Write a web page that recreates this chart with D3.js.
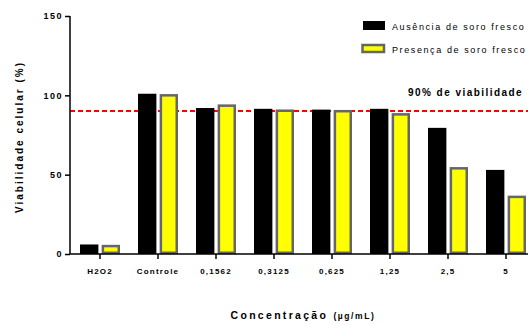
<!DOCTYPE html>
<html>
<head>
<meta charset="utf-8">
<script src="https://cdn.jsdelivr.net/npm/d3@7"></script>
<style>
  html, body { margin: 0; padding: 0; background: #fff; overflow: hidden; }
  svg { display: block; font-family: "Liberation Sans", Arial, sans-serif; }
</style>
</head>
<body>
<svg id="chart" width="528" height="325"></svg>
<script>
// Viabilidade celular por concentração, com e sem soro fresco
const categories = ["H2O2", "Controle", "0,1562", "0,3125", "0,625", "1,25", "2,5", "5"];
const seriesNames = ["Ausência de soro fresco", "Presença de soro fresco"];
const ausencia = [6, 101, 92, 91.5, 91, 91.5, 79.5, 53];
const presenca = [5, 100, 93.5, 90.3, 90, 88, 54, 36];
const yTicks = [0, 50, 100, 150];
const threshold = 90;

(function () {
const svg = d3.select("#chart");
const plotLeft = 70, plotBottom = 254, plotTop = 16;
const step = 58;

const x0 = d3.scaleBand().domain(categories)
  .range([plotLeft + 1, plotLeft + 1 + step * categories.length]).padding(0);
const x1 = d3.scaleBand().domain(seriesNames).range([9, 49]).paddingInner(0.15);
const y = d3.scaleLinear().domain([0, 150]).range([plotBottom, plotTop]);

const rows = categories.map((c, i) => ({ cat: c, vals: [ausencia[i], presenca[i]] }));

// Linha de 90% de viabilidade (atrás das barras)
const yLine = Math.round(y(threshold));
svg.append("line")
  .attr("x1", plotLeft).attr("x2", 528)
  .attr("y1", yLine).attr("y2", yLine)
  .attr("stroke", "#ff0000").attr("stroke-width", 2)
  .attr("stroke-dasharray", "5,3");

svg.append("text")
  .attr("x", 408).attr("y", 96)
  .attr("font-size", 10).attr("font-weight", "bold")
  .attr("letter-spacing", 1.45)
  .text("90% de viabilidade");

// Barras
const groups = svg.append("g").selectAll("g").data(rows).join("g")
  .attr("transform", d => `translate(${x0(d.cat)},0)`);

const sw = 2.5;
groups.append("rect")
  .attr("x", x1(seriesNames[0]))
  .attr("width", x1.bandwidth())
  .attr("y", d => y(d.vals[0]))
  .attr("height", d => y(0) - y(d.vals[0]))
  .attr("fill", "#000");

groups.append("rect")
  .attr("x", x1(seriesNames[1]) + sw / 2)
  .attr("width", x1.bandwidth() - sw)
  .attr("y", d => y(d.vals[1]))
  .attr("height", d => y(0) - y(d.vals[1]) - sw / 2)
  .attr("fill", "#ffff00")
  .attr("stroke", "#666")
  .attr("stroke-width", sw);

// Eixo Y
const yAxis = d3.axisLeft(y).tickValues(yTicks).tickSize(5).tickPadding(2);
const gy = svg.append("g").attr("transform", `translate(${plotLeft},0)`).call(yAxis);
gy.select(".domain").attr("stroke", "#000").attr("stroke-width", 1.5).attr("d", `M0,${plotTop}V${plotBottom}`);
gy.selectAll(".tick line").attr("stroke", "#000").attr("stroke-width", 1.5);
gy.selectAll(".tick text")
  .attr("font-size", 9).attr("font-weight", "bold").attr("letter-spacing", 1.5)
  .attr("font-family", "Liberation Sans, Arial, sans-serif").attr("fill", "#000");

// Eixo X
const xAxis = d3.axisBottom(x0).tickSize(5).tickSizeOuter(0).tickPadding(9);
const gx = svg.append("g").attr("transform", `translate(0,${plotBottom})`).call(xAxis);
gx.select(".domain").attr("stroke", "#000").attr("stroke-width", 1.5).attr("d", `M${plotLeft},0H528`);
gx.selectAll(".tick line").attr("stroke", "#000").attr("stroke-width", 1.5);
gx.selectAll(".tick text")
  .attr("font-size", 8).attr("font-weight", "bold").attr("letter-spacing", 1.2)
  .attr("font-family", "Liberation Sans, Arial, sans-serif").attr("fill", "#000");

// Títulos dos eixos
svg.append("text")
  .attr("transform", `translate(23,${(plotTop + plotBottom) / 2 + 2}) rotate(-90)`)
  .attr("text-anchor", "middle")
  .attr("font-size", 10).attr("font-weight", "bold").attr("letter-spacing", 2)
  .text("Viabilidade celular (%)");

const xt = svg.append("text")
  .attr("x", 303).attr("y", 319)
  .attr("text-anchor", "middle")
  .attr("font-size", 10.5).attr("font-weight", "bold").attr("letter-spacing", 2.3);
xt.append("tspan").text("Concentração ");
xt.append("tspan").attr("font-size", 8.5).attr("letter-spacing", 1.6).text("(µg/mL)");

// Legenda
const legend = svg.append("g");
legend.append("rect").attr("x", 363).attr("y", 21).attr("width", 22).attr("height", 9).attr("fill", "#000");
legend.append("rect").attr("x", 362.5).attr("y", 45).attr("width", 21.5).attr("height", 7)
  .attr("fill", "#ffff00").attr("stroke", "#666").attr("stroke-width", sw);
legend.selectAll("text.lab").data(seriesNames).join("text")
  .attr("class", "lab")
  .attr("x", 392).attr("y", (d, i) => 30 + i * 23)
  .attr("font-size", 9).attr("letter-spacing", 1.6)
  .text(d => d);
})();
</script>
</body>
</html>
